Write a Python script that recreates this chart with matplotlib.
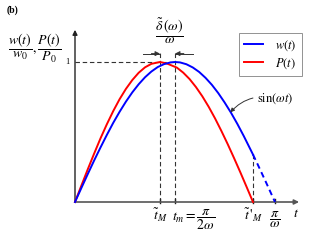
import numpy as np
import matplotlib.pyplot as plt

plt.rcParams["mathtext.fontset"] = "stix"
plt.rcParams["font.family"] = ["Liberation Serif", "DejaVu Serif"]

# ================== DATA (omega = 1) ==================
t_red = [0.0, 0.1, 0.2, 0.3, 0.4, 0.5, 0.6, 0.7, 0.8, 0.9, 1.0, 1.1, 1.2, 1.335,
         1.45, 1.6, 1.7, 1.8, 1.9, 2.0, 2.1, 2.2, 2.3, 2.4, 2.5, 2.6, 2.7, 2.796]
p_red = [0.0, 0.117, 0.233, 0.345, 0.454, 0.555, 0.649, 0.734, 0.808, 0.871,
         0.923, 0.962, 0.987, 1.0,
         0.988, 0.960, 0.924, 0.878, 0.821, 0.755, 0.680, 0.597, 0.507,
         0.412, 0.312, 0.209, 0.103, 0.0]

t_blue = [0.0, 0.1, 0.2, 0.3, 0.4, 0.5, 0.6, 0.7, 0.8, 0.9, 1.0, 1.1, 1.2, 1.3,
          1.4, 1.5, 1.5708, 1.65, 1.75, 1.85, 1.95, 2.05, 2.15, 2.25, 2.35,
          2.45, 2.55, 2.65, 2.796]
w_blue = [0.0, 0.100, 0.199, 0.296, 0.389, 0.479, 0.565, 0.644, 0.717, 0.783,
          0.841, 0.891, 0.932, 0.964, 0.985, 0.997, 1.0, 0.997, 0.984, 0.961,
          0.929, 0.887, 0.837, 0.778, 0.711, 0.638, 0.558, 0.472, 0.339]
t_blue_dash = [2.796, 2.9, 3.0, 3.1416]
w_blue_dash = [0.339, 0.239, 0.141, 0.0]

t_M_tilde = 1.335
t_m = 1.5708
t_M_prime = 2.796
t_end = 3.1416

# ================== FIGURE ==================
fig = plt.figure(figsize=(3.19, 2.47), dpi=100)
ax = fig.add_axes([0, 0, 1, 1])
ax.set_xlim(-75 * np.pi / 200, 244 * np.pi / 200)
ax.set_ylim(-45 / 140, 202 / 140)
ax.axis("off")

# axes with arrows
ax.annotate("", xy=(3.52, 0), xytext=(0, 0),
            arrowprops=dict(arrowstyle="-|>", color="#555555", lw=1.2,
                            mutation_scale=7, shrinkA=0, shrinkB=0))
ax.annotate("", xy=(0, 1.23), xytext=(0, 0),
            arrowprops=dict(arrowstyle="-|>", color="#222222", lw=1.0,
                            mutation_scale=7, shrinkA=0, shrinkB=0))

# dashed guides
dk = dict(color="#333333", lw=0.8, ls=(0, (4, 2.5)))
ax.plot([0, t_m], [1, 1], **dk)
ax.plot([t_M_tilde, t_M_tilde], [0, 1.08], **dk)
ax.plot([t_m, t_m], [0, 1.08], **dk)
ax.plot([t_M_prime, t_M_prime], [0, w_blue[-1]], **dk)

# curves
ax.plot(t_red, p_red, color="red", lw=1.4, label=r"$P(t)$", zorder=3)
ax.plot(t_blue, w_blue, color="blue", lw=1.4, label=r"$w(t)$", zorder=3)
ax.plot(t_blue_dash, w_blue_dash, color="blue", lw=1.4, ls=(0, (3, 2)), zorder=3)

# small ticks on x axis
for tt in [t_M_tilde, t_m, t_M_prime, t_end]:
    ax.plot([tt, tt], [-0.01, 0.02], color="#222222", lw=1.0)

# delta arrows
ya = 1.06
ax.plot([1.07, t_M_tilde], [ya, ya], color="#333333", lw=0.7)
ax.plot([t_m, 1.85], [ya, ya], color="#333333", lw=0.7)
ax.annotate("", xy=(t_M_tilde, ya), xytext=(1.2, ya),
            arrowprops=dict(arrowstyle="-|>", color="#333333", lw=0.7,
                            mutation_scale=7, shrinkA=0, shrinkB=0))
ax.annotate("", xy=(t_m, ya), xytext=(1.71, ya),
            arrowprops=dict(arrowstyle="-|>", color="#333333", lw=0.7,
                            mutation_scale=7, shrinkA=0, shrinkB=0))
ax.text(1.48, 1.22, r"$\dfrac{\tilde{\delta}\,(\omega)}{\omega}$",
        ha="center", va="center", fontsize=10)

# labels
ax.text(-0.08, 1.0, "1", ha="right", va="center", fontsize=6)
ax.text(-1.07, 1.37, "(b)", ha="left", va="center", fontsize=7, fontweight="bold")
ax.text(-0.64, 1.1, r"$\dfrac{w(t)}{w_0},\dfrac{P(t)}{P_0}$",
        ha="center", va="center", fontsize=10)

ax.text(t_M_tilde, -0.095, r"$\tilde{t}_M$", ha="center", va="center", fontsize=10)
ax.text(t_m - 0.04, -0.13, r"$t_m = \dfrac{\pi}{2\omega}$", ha="left", va="center", fontsize=10)
ax.text(t_M_prime, -0.095, r"$\tilde{t}\,'_M$", ha="center", va="center", fontsize=10)
ax.text(t_end, -0.13, r"$\dfrac{\pi}{\omega}$", ha="center", va="center", fontsize=10)
ax.text(3.47, -0.085, r"$t$", ha="center", va="center", fontsize=10)

# sin(wt) annotation
ax.annotate(r"$\sin(\omega t)$", xy=(2.44, 0.64), xytext=(2.86, 0.74),
            fontsize=9, ha="left", va="center",
            arrowprops=dict(arrowstyle="-|>", color="#333333", lw=0.7,
                            mutation_scale=6, connectionstyle="arc3,rad=0.3",
                            shrinkA=1, shrinkB=0))

# legend
handles, labels = ax.get_legend_handles_labels()
leg = ax.legend(handles[::-1], labels[::-1], loc="upper left",
                bbox_to_anchor=(239 / 319, 1 - 33 / 247), fontsize=9,
                frameon=True, fancybox=False, edgecolor="#777777",
                handlelength=1.5, borderpad=0.4, labelspacing=0.3,
                handletextpad=1.0, borderaxespad=0)
leg.get_frame().set_linewidth(0.7)

fig.savefig("out.png", dpi=100)
